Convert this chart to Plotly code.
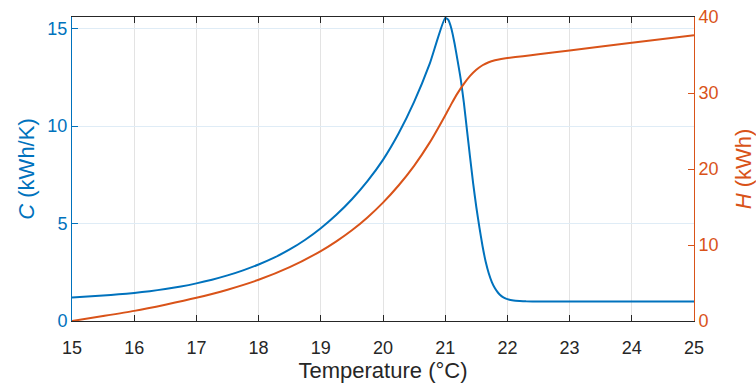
import plotly.graph_objects as go

# Temperature grid and heat capacity C (kWh/K)
T_C = [15.0, 15.25, 15.5, 15.75, 16.0, 16.25, 16.5, 16.75, 17.0, 17.25, 17.5, 17.75,
       18.0, 18.25, 18.5, 18.75, 19.0, 19.25, 19.5, 19.75, 20.0, 20.25, 20.5, 20.75,
       21.0, 21.05, 21.1, 21.15, 21.2, 21.25, 21.3, 21.35, 21.4, 21.45, 21.5, 21.55,
       21.6, 21.65, 21.7, 21.75, 21.8, 21.85, 21.9, 21.95, 22.0, 22.1, 22.2, 22.3,
       22.5, 23.0, 24.0, 25.0]
C_vals = [1.21, 1.26, 1.31, 1.37, 1.44, 1.53, 1.64, 1.77, 1.93, 2.12, 2.34, 2.60,
          2.90, 3.25, 3.67, 4.17, 4.76, 5.45, 6.25, 7.18, 8.27, 9.62, 11.24, 13.19,
          15.55, 15.45, 15.0, 14.25, 13.35, 12.4, 11.2, 9.8, 8.4, 7.05, 5.85, 4.8,
          3.85, 3.05, 2.45, 2.0, 1.68, 1.45, 1.29, 1.19, 1.12, 1.05, 1.025, 1.01,
          1.0, 1.0, 1.0, 1.0]

# Enthalpy H (kWh)
T_H = [15.0, 15.5, 16.0, 16.5, 17.0, 17.5, 18.0, 18.5, 19.0, 19.25, 19.5, 19.75,
       20.0, 20.25, 20.5, 20.75, 21.0, 21.1, 21.2, 21.3, 21.4, 21.5, 21.6, 21.7,
       21.8, 21.9, 22.0, 22.25, 22.5, 23.0, 24.0, 25.0]
H_vals = [0.0, 0.65, 1.33, 2.15, 3.05, 4.12, 5.42, 7.08, 9.2, 10.48, 11.94, 13.63,
          15.58, 17.83, 20.42, 23.47, 27.05, 28.57, 29.98, 31.2, 32.25, 33.05, 33.65, 34.05,
          34.3, 34.47, 34.6, 34.85, 35.1, 35.6, 36.6, 37.6]

x_ticks = list(range(15, 26))
yl_ticks = [0, 5, 10, 15]
yr_ticks = [0, 10, 20, 30, 40]

BLUE = "#0072BD"
ORANGE = "#D95319"
DARK = "#262626"
FONT = "Liberation Sans, Arial, Helvetica, sans-serif"

fig = go.Figure()
fig.add_trace(go.Scatter(x=T_C, y=C_vals, mode="lines",
                         line=dict(color=BLUE, width=2, shape="spline", smoothing=0.5),
                         yaxis="y"))
fig.add_trace(go.Scatter(x=T_H, y=H_vals, mode="lines",
                         line=dict(color=ORANGE, width=2, shape="spline", smoothing=0.6),
                         yaxis="y2"))

fig.update_layout(
    width=756, height=387,
    margin=dict(l=72, r=62, t=17, b=66),
    paper_bgcolor="white", plot_bgcolor="white",
    showlegend=False,
    font=dict(family=FONT, size=18, color=DARK),
    xaxis=dict(
        range=[15, 25], tickvals=x_ticks, ticktext=[str(v) for v in x_ticks],
        showgrid=True, gridcolor="#e3e3e3", gridwidth=1,
        showline=True, linecolor=DARK, linewidth=1, mirror="ticks",
        ticks="inside", ticklen=6, tickcolor=DARK,
        ticklabelstandoff=10,
        tickfont=dict(size=18, color=DARK),
        title=dict(text="Temperature (°C)", font=dict(size=22, color=DARK), standoff=2),
        zeroline=False, automargin=False,
    ),
    yaxis=dict(
        range=[0, 15.6], tickvals=yl_ticks,
        showgrid=True, gridcolor="#dfecf6", gridwidth=1,
        showline=True, linecolor=BLUE, linewidth=1,
        ticks="inside", ticklen=6, tickcolor=BLUE,
        tickfont=dict(size=18, color=BLUE),
        title=dict(text="<i>C</i> (kWh/K)", font=dict(size=22, color=BLUE), standoff=6),
        zeroline=False, automargin=False,
    ),
    yaxis2=dict(
        range=[0, 40], tickvals=yr_ticks, overlaying="y", side="right",
        showgrid=False,
        showline=True, linecolor=ORANGE, linewidth=1,
        ticks="inside", ticklen=6, tickcolor=ORANGE,
        tickfont=dict(size=18, color=ORANGE),
        title=dict(text="<i>H</i> (kWh)", font=dict(size=22, color=ORANGE), standoff=19),
        zeroline=False, automargin=False,
    ),
)

fig.write_html("out.html")
